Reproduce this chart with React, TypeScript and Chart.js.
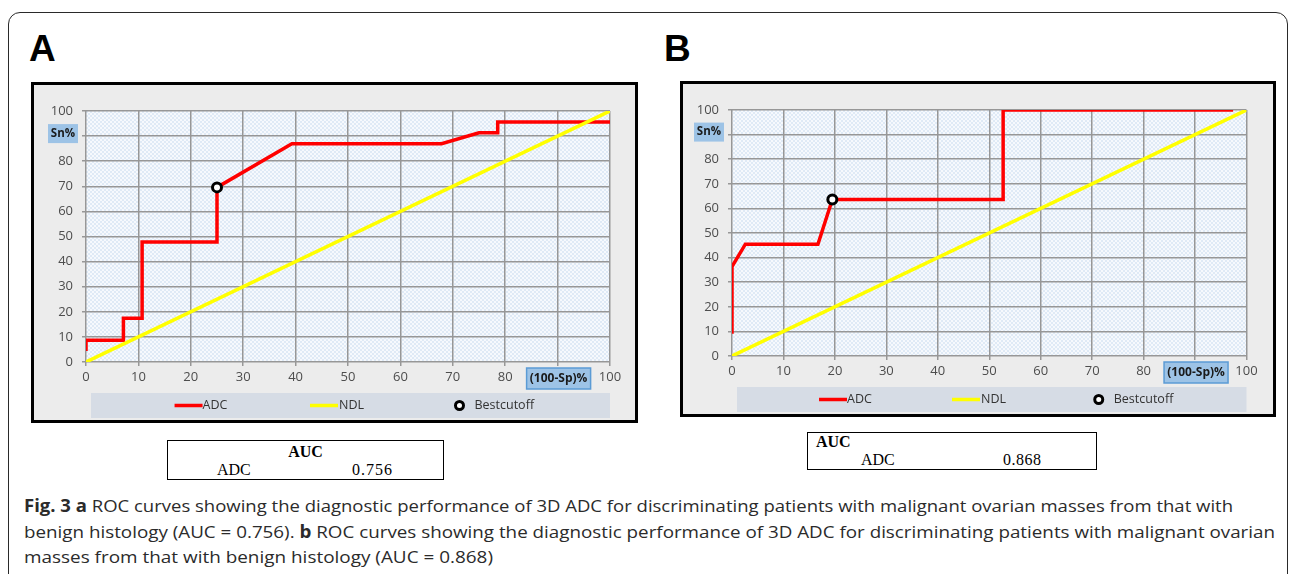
import React, { useEffect, useLayoutEffect, useRef } from 'react';
import { Chart, registerables } from 'chart.js';
Chart.register(...registerables);

// ---- data ----
const tickValues = [0, 10, 20, 30, 40, 50, 60, 70, 80, 90, 100];
const ndlX = [0, 100];
const ndlY = [0, 100];

const fprA = [0, 0, 7.14, 7.14, 10.71, 10.71, 25, 25, 39.29, 67.86, 75, 78.57, 78.57, 100];
const sensA = [4.35, 8.7, 8.7, 17.39, 17.39, 47.83, 47.83, 69.57, 86.96, 86.96, 91.3, 91.3, 95.65, 95.65];
const cutA = [25, 69.57];
const aucA = '0.756';

const fprB = [0, 0, 2.6, 16.7, 19.5, 52.7, 52.7, 97.4];
const sensB = [9.09, 36.36, 45.45, 45.45, 63.64, 63.64, 100, 100];
const cutB = [19.5, 63.64];
const aucB = '0.868';

const legendLabels = ['ADC', 'NDL', 'Bestcutoff'];
const yTitle = 'Sn%';
const xTitle = '(100-Sp)%';

const FONT = '"Open Sans", "Noto Sans", sans-serif';

function makePattern(ctx: CanvasRenderingContext2D) {
  const c = document.createElement('canvas');
  c.width = 4;
  c.height = 4;
  const g = c.getContext('2d')!;
  g.fillStyle = '#dfeaf6';
  g.fillRect(0, 0, 4, 4);
  g.fillStyle = '#f6f9fd';
  g.fillRect(0, 0, 2, 2);
  g.fillRect(2, 2, 2, 2);
  return ctx.createPattern(c, 'repeat');
}

const decor = {
  id: 'decor',
  beforeDraw(chart: any) {
    const { ctx, chartArea: a, width, height } = chart;
    ctx.save();
    ctx.fillStyle = '#ececec';
    ctx.fillRect(0, 0, width, height);
    const p = makePattern(ctx);
    ctx.fillStyle = p || '#e8f0f9';
    ctx.fillRect(a.left, a.top, a.right - a.left, a.bottom - a.top);
    ctx.restore();
  },
  afterDraw(chart: any) {
    const { ctx, chartArea: a, scales } = chart;
    ctx.save();
    // Sn% label box
    const y90 = scales.y.getPixelForValue(90);
    ctx.fillStyle = '#9dc3e6';
    ctx.fillRect(a.left - 38, y90 - 12, 30, 19);
    ctx.fillStyle = '#1a1a1a';
    ctx.font = 'bold 11.5px ' + FONT;
    ctx.textAlign = 'center';
    ctx.textBaseline = 'middle';
    ctx.fillText(yTitle, a.left - 23, y90 - 2.5);
    // (100-Sp)% label box
    const x90 = scales.x.getPixelForValue(90);
    ctx.fillStyle = '#9dc3e6';
    ctx.fillRect(x90 - 31, a.bottom + 6, 64, 21);
    ctx.strokeStyle = '#5b9bd5';
    ctx.lineWidth = 1.5;
    ctx.strokeRect(x90 - 31, a.bottom + 6, 64, 21);
    ctx.fillStyle = '#1a1a1a';
    ctx.font = 'bold 12px ' + FONT;
    ctx.fillText(xTitle, x90 + 1, a.bottom + 16.5);

    // legend
    const left = a.left + 5;
    const right = a.right;
    const top = a.bottom + 31;
    const h = 25;
    const w = right - left;
    const cy = top + h / 2;
    ctx.fillStyle = '#d6dce5';
    ctx.fillRect(left, top, w, h);
    ctx.font = '12.5px ' + FONT;
    ctx.textAlign = 'left';
    ctx.textBaseline = 'middle';
    ctx.lineWidth = 3.5;
    // ADC
    let x = left + w * 0.161;
    ctx.strokeStyle = '#ff0000';
    ctx.beginPath();
    ctx.moveTo(x, cy);
    ctx.lineTo(x + 28, cy);
    ctx.stroke();
    ctx.fillStyle = '#333333';
    ctx.fillText(legendLabels[0], x + 28, cy);
    // NDL
    x = left + w * 0.422;
    ctx.strokeStyle = '#ffff00';
    ctx.beginPath();
    ctx.moveTo(x, cy);
    ctx.lineTo(x + 28, cy);
    ctx.stroke();
    ctx.fillText(legendLabels[1], x + 29, cy);
    // Bestcutoff
    x = left + w * 0.71;
    ctx.beginPath();
    ctx.arc(x, cy, 4, 0, Math.PI * 2);
    ctx.fillStyle = '#ffffff';
    ctx.fill();
    ctx.lineWidth = 3;
    ctx.strokeStyle = '#000000';
    ctx.stroke();
    ctx.fillStyle = '#333333';
    ctx.fillText(legendLabels[2], x + 15, cy);
    ctx.restore();
  },
};

function axis(fit: (s: any) => void) {
  return {
    type: 'linear' as const,
    min: 0,
    max: 100,
    afterBuildTicks: (s: any) => {
      s.ticks = tickValues.map((v) => ({ value: v }));
    },
    afterFit: fit,
    border: { display: false },
    grid: {
      color: '#979797',
      lineWidth: 1.5,
      tickLength: 4,
      tickColor: '#979797',
    },
    ticks: {
      color: '#4d4d4d',
      font: { family: FONT, size: 13 },
      callback: (v: any) => (v === 90 ? '' : String(v)),
    },
  };
}

function RocChart(props: {
  fpr: number[];
  sens: number[];
  cut: number[];
  w: number;
  h: number;
  yAxisWidth: number;
  padRight: number;
}) {
  const ref = useRef<HTMLCanvasElement>(null);
  useEffect(() => {
    const { fpr, sens, cut, yAxisWidth, padRight } = props;
    const xa: any = axis((s: any) => {
      s.height = 30;
    });
    xa.ticks.padding = 3;
    const ya: any = axis((s: any) => {
      s.width = yAxisWidth;
    });
    ya.ticks.padding = 9;
    const chart = new Chart(ref.current!, {
      type: 'scatter',
      data: {
        datasets: [
          {
            label: legendLabels[2],
            data: [{ x: cut[0], y: cut[1] }],
            showLine: false,
            pointRadius: 4.5,
            pointBorderWidth: 3,
            pointBackgroundColor: '#ffffff',
            pointBorderColor: '#000000',
            order: 0,
          },
          {
            label: legendLabels[1],
            data: ndlX.map((x, i) => ({ x, y: ndlY[i] })),
            showLine: true,
            borderColor: '#ffff00',
            borderWidth: 3.5,
            pointRadius: 0,
            order: 1,
          },
          {
            label: legendLabels[0],
            data: fpr.map((x, i) => ({ x, y: sens[i] })),
            showLine: true,
            borderColor: '#ff0000',
            borderWidth: 3.5,
            borderJoinStyle: 'miter',
            pointRadius: 0,
            order: 2,
          },
        ] as any,
      },
      options: {
        animation: false,
        responsive: false,
        events: [],
        layout: { padding: { left: 0, top: 26, right: padRight, bottom: 28 } },
        plugins: { legend: { display: false }, tooltip: { enabled: false } },
        elements: { line: { tension: 0 } },
        scales: { x: xa, y: ya },
      },
      plugins: [decor],
    });
    return () => chart.destroy();
  }, []);
  return (
    <canvas
      ref={ref}
      width={props.w}
      height={props.h}
      style={{ width: props.w, height: props.h, display: 'block' }}
    />
  );
}

function CaptionLine(props: { top: number; width: number; children: React.ReactNode }) {
  const ref = useRef<HTMLDivElement>(null);
  useLayoutEffect(() => {
    const el = ref.current!;
    el.style.transform = 'none';
    const w = el.getBoundingClientRect().width;
    if (w > 0) el.style.transform = `scaleX(${props.width / w})`;
  }, []);
  return (
    <div
      ref={ref}
      style={{
        position: 'absolute',
        left: 24,
        top: props.top,
        whiteSpace: 'nowrap',
        transformOrigin: '0 0',
        fontFamily: FONT,
        fontSize: 17,
        lineHeight: '20px',
        color: '#2b2b2b',
      }}
    >
      {props.children}
    </div>
  );
}

const serif = '"Liberation Serif", "Times New Roman", serif';

export default function App() {
  return (
    <div
      style={{
        position: 'absolute',
        left: 0,
        top: 0,
        width: 1290,
        height: 574,
        overflow: 'hidden',
        background: '#fff',
      }}
    >
      <div
        style={{
          position: 'absolute',
          left: 8,
          top: 12,
          width: 1280,
          height: 620,
          border: '1.5px solid #2a2a2a',
          borderRadius: 12,
          boxSizing: 'border-box',
        }}
      />
      <div
        style={{
          position: 'absolute',
          left: 29,
          top: 30,
          fontFamily: '"Liberation Sans", Arial, sans-serif',
          fontWeight: 'bold',
          fontSize: 37,
          lineHeight: 1,
          color: '#000',
        }}
      >
        A
      </div>
      <div
        style={{
          position: 'absolute',
          left: 664,
          top: 30,
          fontFamily: '"Liberation Sans", Arial, sans-serif',
          fontWeight: 'bold',
          fontSize: 37,
          lineHeight: 1,
          color: '#000',
        }}
      >
        B
      </div>

      <div
        style={{
          position: 'absolute',
          left: 31,
          top: 82,
          width: 607,
          height: 341,
          border: '3px solid #000',
          boxSizing: 'border-box',
        }}
      >
        <RocChart fpr={fprA} sens={sensA} cut={cutA} w={601} h={335} yAxisWidth={52} padRight={25} />
      </div>
      <div
        style={{
          position: 'absolute',
          left: 680,
          top: 81,
          width: 596,
          height: 336,
          border: '3px solid #000',
          boxSizing: 'border-box',
        }}
      >
        <RocChart fpr={fprB} sens={sensB} cut={cutB} w={590} h={330} yAxisWidth={49} padRight={26.5} />
      </div>

      {/* AUC table A */}
      <div
        style={{
          position: 'absolute',
          left: 167,
          top: 440,
          width: 277,
          height: 40,
          border: '1px solid #000',
          boxSizing: 'border-box',
          fontFamily: serif,
          fontSize: 16,
          lineHeight: 1,
          color: '#000',
        }}
      >
        <div style={{ position: 'absolute', left: 0, width: '100%', top: 3, textAlign: 'center', fontWeight: 'bold' }}>AUC</div>
        <div style={{ position: 'absolute', left: 49, top: 21 }}>ADC</div>
        <div style={{ position: 'absolute', left: 184, top: 21, letterSpacing: 1 }}>{aucA}</div>
      </div>

      {/* AUC table B */}
      <div
        style={{
          position: 'absolute',
          left: 807,
          top: 432,
          width: 290,
          height: 38,
          border: '1px solid #000',
          boxSizing: 'border-box',
          fontFamily: serif,
          fontSize: 16,
          lineHeight: 1,
          color: '#000',
        }}
      >
        <div style={{ position: 'absolute', left: 8, top: 1, fontWeight: 'bold' }}>AUC</div>
        <div style={{ position: 'absolute', left: 53, top: 19 }}>ADC</div>
        <div style={{ position: 'absolute', left: 195, top: 19, letterSpacing: 0.5 }}>{aucB}</div>
      </div>

      <CaptionLine top={496} width={1209}>
        <b>Fig. 3 a</b> ROC curves showing the diagnostic performance of 3D ADC for discriminating patients with malignant ovarian masses from that with
      </CaptionLine>
      <CaptionLine top={522} width={1251}>
        benign histology (AUC = 0.756). <b>b</b> ROC curves showing the diagnostic performance of 3D ADC for discriminating patients with malignant ovarian
      </CaptionLine>
      <CaptionLine top={547} width={469}>
        masses from that with benign histology (AUC = 0.868)
      </CaptionLine>
    </div>
  );
}
